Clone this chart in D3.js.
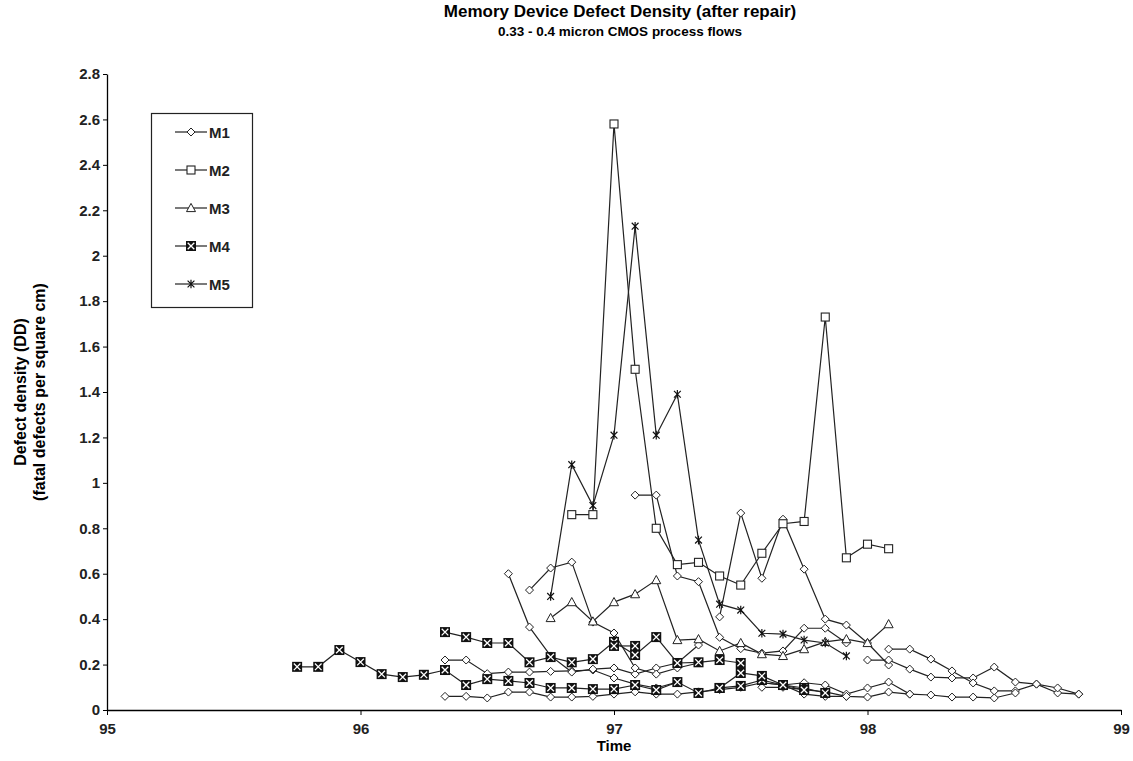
<!DOCTYPE html>
<html>
<head>
<meta charset="utf-8">
<script src="https://cdn.jsdelivr.net/npm/d3@7"></script>
<style>
  body { margin: 0; background: #fff; }
  svg { font-family: "Liberation Sans", Arial, sans-serif; font-weight: bold; }
</style>
</head>
<body>
<svg id="chart" width="1133" height="761"></svg>
<script>
// month index k means time = 95 + k/12
const seriesNames = ['M1', 'M2', 'M3', 'M4', 'M5'];
const xTicks = [95, 96, 97, 98, 99];
const yTicks = [0, 0.2, 0.4, 0.6, 0.8, 1, 1.2, 1.4, 1.6, 1.8, 2, 2.2, 2.4, 2.6, 2.8];

const m1Lines = [
  { start: 16, values: [0.22, 0.22, 0.16, 0.167, 0.167, 0.17, 0.172, 0.176, 0.141, 0.114, 0.097, 0.123] },
  { start: 16, values: [0.06, 0.06, 0.053, 0.079, 0.079, 0.057, 0.057, 0.06, 0.07, 0.08, 0.07, 0.07, 0.08, 0.09, 0.10, 0.12, 0.11, 0.07, 0.06, 0.06] },
  { start: 19, values: [0.60, 0.365, 0.238, 0.167, 0.18, 0.185, 0.158, 0.185, 0.207, 0.286] },
  { start: 20, values: [0.528, 0.625, 0.651, 0.387, 0.339, 0.185, 0.158, 0.185, 0.207] },
  { start: 25, values: [0.946, 0.946, 0.59, 0.565, 0.32, 0.27, 0.25, 0.26, 0.36, 0.36, 0.295] },
  { start: 29, values: [0.41, 0.867, 0.58, 0.84, 0.62, 0.40, 0.374, 0.295, 0.198] },
  { start: 36, values: [0.22, 0.22, 0.18, 0.145, 0.141, 0.141, 0.189, 0.123, 0.114, 0.075, 0.07] },
  { start: 37, values: [0.268, 0.268, 0.224, 0.172, 0.119, 0.084, 0.084, 0.114, 0.097, 0.07] },
  { start: 31, values: [0.12, 0.11, 0.12, 0.11, 0.07, 0.097, 0.123, 0.07, 0.066, 0.057, 0.057, 0.053, 0.075] },
  { start: 31, values: [0.10, 0.10, 0.09, 0.08, 0.06, 0.057, 0.079, 0.07] }
];
const m2Lines = [
  { start: 22, values: [0.86, 0.86, 2.58, 1.50, 0.80, 0.64, 0.65, 0.59, 0.55, 0.69, 0.82, 0.83, 1.73, 0.67, 0.73, 0.71] }
];
const m3Lines = [
  { start: 21, values: [0.405, 0.475, 0.39, 0.475, 0.51, 0.572, 0.308, 0.312, 0.26, 0.295, 0.246, 0.238, 0.268, 0.30, 0.312, 0.295, 0.378] }
];
const m4Lines = [
  { start: 9, values: [0.19, 0.19, 0.264, 0.211, 0.158, 0.145, 0.155, 0.176, 0.11, 0.136, 0.128, 0.119, 0.097, 0.097, 0.092, 0.092, 0.11, 0.088, 0.123, 0.075, 0.097, 0.106, 0.132, 0.11, 0.097, 0.075] },
  { start: 16, values: [0.343, 0.321, 0.295, 0.295, 0.21, 0.233, 0.21, 0.224, 0.30, 0.242, 0.321, 0.207, 0.21, 0.22, 0.207] },
  { start: 24, values: [0.282, 0.282] },
  { start: 29, values: [0.097, 0.163, 0.15, 0.11, 0.088] }
];
const m5Lines = [
  { start: 21, values: [0.50, 1.08, 0.90, 1.21, 2.13, 1.21, 1.39, 0.748, 0.466, 0.44, 0.338, 0.334, 0.308, 0.295, 0.238] }
];

const allSeries = [m1Lines, m2Lines, m3Lines, m4Lines, m5Lines];

const svg = d3.select('#chart');
const margin = { left: 107, right: 12, top: 74, bottom: 51 };
const width = 1133, height = 761;

const x = d3.scaleLinear().domain([95, 99]).range([margin.left, width - margin.right]);
const y = d3.scaleLinear().domain([0, 2.8]).range([height - margin.bottom, margin.top]);

// titles
svg.append('text').attr('x', 620).attr('y', 17).attr('text-anchor', 'middle')
  .style('font-size', '17px').text('Memory Device Defect Density (after repair)');
svg.append('text').attr('x', 620).attr('y', 36).attr('text-anchor', 'middle')
  .style('font-size', '13.5px').text('0.33 - 0.4 micron CMOS process flows');

// axes
const xAxis = svg.append('g')
  .attr('transform', `translate(0,${y(0)})`)
  .call(d3.axisBottom(x).tickValues(xTicks).tickSize(5).tickSizeOuter(0).tickFormat(d3.format('d')));
const yAxis = svg.append('g')
  .attr('transform', `translate(${x(95)},0)`)
  .call(d3.axisLeft(y).tickValues(yTicks).tickSize(4).tickSizeOuter(0).tickFormat(d => d3.format('')(d)));

[xAxis, yAxis].forEach(g => {
  g.select('.domain').attr('stroke', '#000').attr('stroke-width', 1.3);
  g.selectAll('.tick line').attr('stroke', '#000');
  g.selectAll('.tick text').attr('fill', '#222').style('font-size', '15px').style('font-weight', 'bold')
    .style('font-family', '"Liberation Sans", Arial, sans-serif');
});
xAxis.selectAll('.tick text').attr('dy', '1.05em');
yAxis.selectAll('.tick text').attr('x', -7);

svg.append('text').attr('x', x(97)).attr('y', 751).attr('text-anchor', 'middle')
  .style('font-size', '15px').text('Time');
svg.append('text').attr('transform', `translate(26,${y(1.4)}) rotate(-90)`).attr('text-anchor', 'middle')
  .style('font-size', '16px').text('Defect density (DD)');
svg.append('text').attr('transform', `translate(45,${y(1.4)}) rotate(-90)`).attr('text-anchor', 'middle')
  .style('font-size', '16px').text('(fatal defects per square cm)');

// markers
function drawMarker(g, type) {
  if (type === 0) {
    g.append('path').attr('d', 'M0,-4L4,0L0,4L-4,0Z').attr('fill', '#fff').attr('stroke', '#222').attr('stroke-width', 1);
  } else if (type === 1) {
    g.append('rect').attr('x', -4).attr('y', -4).attr('width', 8).attr('height', 8)
      .attr('fill', '#fff').attr('stroke', '#222').attr('stroke-width', 1.1);
  } else if (type === 2) {
    g.append('path').attr('d', 'M0,-4.6L4.5,3.6L-4.5,3.6Z').attr('fill', '#fff').attr('stroke', '#222').attr('stroke-width', 1);
  } else if (type === 3) {
    g.append('rect').attr('x', -5).attr('y', -5).attr('width', 10).attr('height', 10).attr('fill', '#111');
    g.append('path').attr('d', 'M-3.3,-3.3L3.3,3.3M3.3,-3.3L-3.3,3.3').attr('stroke', '#fff').attr('stroke-width', 1.3);
  } else {
    g.append('path').attr('d', 'M-3.4,-3.4L3.4,3.4M3.4,-3.4L-3.4,3.4M0,-4.3L0,4.3').attr('stroke', '#111').attr('stroke-width', 1.2);
  }
}

const line = d3.line().x(d => x(d.t)).y(d => y(d.v));
const plot = svg.append('g');

allSeries.forEach((lines, si) => {
  lines.forEach(l => {
    const pts = l.values.map((v, i) => ({ t: 95 + (l.start + i) / 12, v }));
    plot.append('path').datum(pts).attr('fill', 'none').attr('stroke', '#222').attr('stroke-width', 1.2).attr('d', line);
  });
});
allSeries.forEach((lines, si) => {
  lines.forEach(l => {
    l.values.forEach((v, i) => {
      const g = plot.append('g').attr('transform', `translate(${x(95 + (l.start + i) / 12)},${y(v)})`);
      drawMarker(g, si);
    });
  });
});

// legend
const legend = svg.append('g');
legend.append('rect').attr('x', 151.5).attr('y', 113.5).attr('width', 101).attr('height', 194)
  .attr('fill', '#fff').attr('stroke', '#222').attr('stroke-width', 1.2);
seriesNames.forEach((name, i) => {
  const ly = 132 + i * 38;
  legend.append('line').attr('x1', 175).attr('x2', 207).attr('y1', ly).attr('y2', ly).attr('stroke', '#222').attr('stroke-width', 1.2);
  drawMarker(legend.append('g').attr('transform', `translate(191,${ly})`), i);
  legend.append('text').attr('x', 209).attr('y', ly + 5.5).style('font-size', '15px').attr('fill', '#222').text(name);
});
</script>
</body>
</html>
